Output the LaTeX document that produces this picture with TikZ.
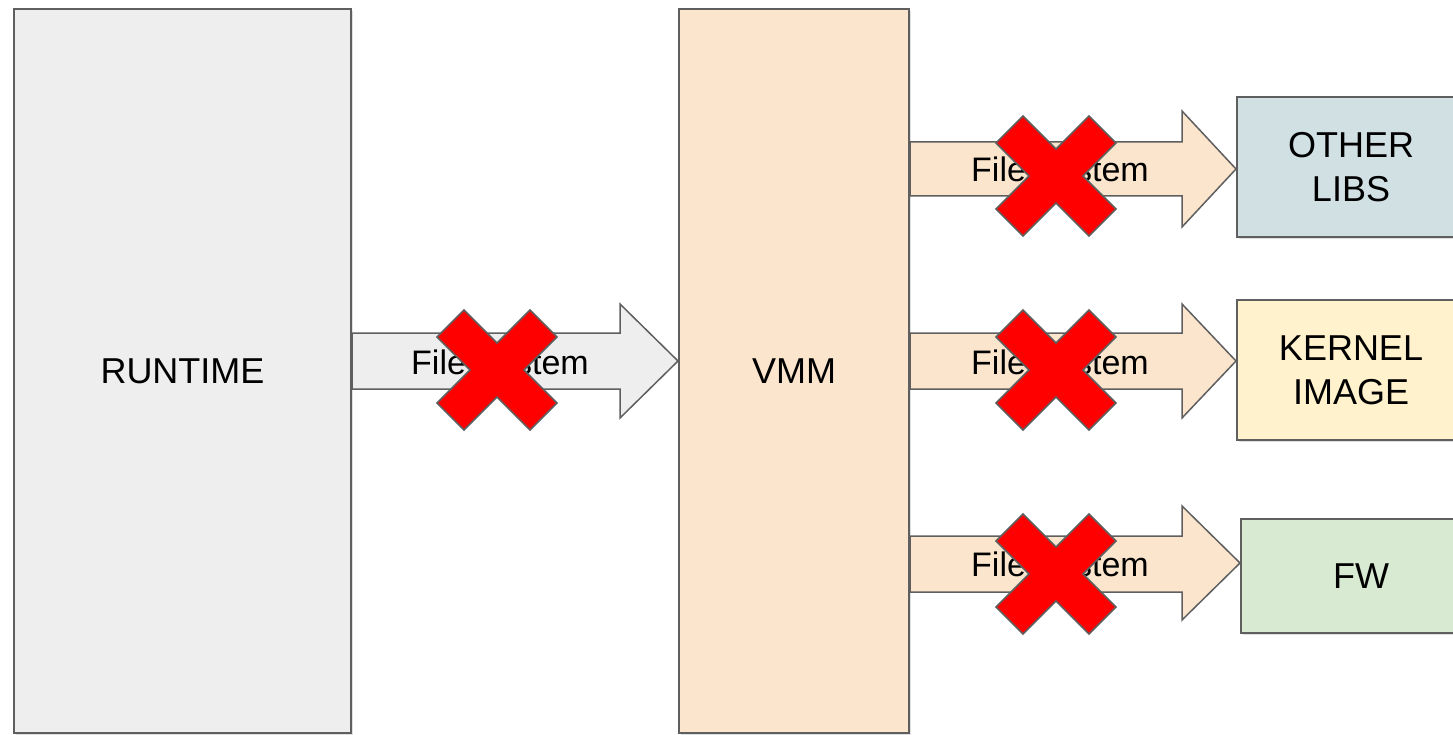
\documentclass[tikz,border=0pt]{standalone}
\usepackage{fontspec}
\setmainfont{Liberation Sans}
\usetikzlibrary{shadows}
\definecolor{edge}{HTML}{5F5F5F}
\definecolor{grayfill}{HTML}{EEEEEE}
\definecolor{peach}{HTML}{FCE5CD}
\definecolor{bluegray}{HTML}{D0E0E3}
\definecolor{cream}{HTML}{FFF2CC}
\definecolor{mint}{HTML}{D9EAD3}
\definecolor{crossred}{HTML}{FF0000}
\begin{document}
\begin{tikzpicture}[x=1pt,y=-1pt,
  box/.style={draw=edge, line width=2pt, inner sep=0pt, align=center,
    font=\fontsize{36}{44}\selectfont,
    drop shadow={shadow xshift=1.5pt, shadow yshift=-2pt, opacity=0.25}},
  blockarrow/.style={draw=edge, line width=1.5pt, line join=miter},
  label/.style={inner sep=0pt, anchor=base, font=\fontsize{34}{40}\selectfont},
  cross/.style={draw=edge, line width=1.5pt, fill=crossred, line join=miter}]
\useasboundingbox (0,0) rectangle (1453,735);
\begin{scope}
\clip (0,0) rectangle (1453,735);

% main blocks
\node[box, fill=grayfill, minimum width=337pt, minimum height=724pt] (rt) at (182.5,371) {RUNTIME};
\node[box, fill=peach, minimum width=230pt, minimum height=724pt] (vmm) at (794,371) {VMM};
\node[box, fill=bluegray, minimum width=228pt, minimum height=140pt] (libs) at (1351,167) {OTHER\\LIBS};
\node[box, fill=cream, minimum width=228pt, minimum height=140pt] (kern) at (1351,370) {KERNEL\\IMAGE};
\node[box, fill=mint, minimum width=240pt, minimum height=114pt] (fw) at (1361,576) {FW};

% block arrows: name, source, target, shaft top y, shaft bottom y,
% head start x, head top y, tip y, fill
\newcommand{\fsarrow}[9]{%
  \coordinate (#1s1) at (#2.east |- 0,#4);
  \coordinate (#1s2) at (#2.east |- 0,#5);
  \coordinate (#1tip) at (#3.west |- 0,#8);
  \draw[blockarrow, fill=#9] (#1s1) -- (#6,#4) -- (#6,#7) -- (#1tip)
     -- (#6,\the\numexpr 2*#8-#7\relax) -- (#6,#5) -- (#1s2) -- cycle;
}
\fsarrow{a}{rt}{vmm}{333}{389}{620}{304}{361}{grayfill}
\fsarrow{b}{vmm}{libs}{142}{196}{1182}{111}{169}{peach}
\fsarrow{c}{vmm}{kern}{333}{389}{1182}{304}{361}{peach}
\fsarrow{d}{vmm}{fw}{536}{592}{1182}{506}{563}{peach}

\node[label] (ta) at (500,374) {File System};
\node[label] (tb) at (1060,182) {File System};
\node[label] (tc) at (1060,374) {File System};
\node[label] (td) at (1060,576) {File System};

% red crosses
\newcommand{\redx}[2]{%
  \draw[cross, shift={(#1,#2)}] (0,-27) -- (33,-60) -- (60,-33) -- (27,0) -- (60,33)
    -- (33,60) -- (0,27) -- (-33,60) -- (-60,33) -- (-27,0) -- (-60,-33) -- (-33,-60) -- cycle;
}
\redx{497}{370}
\redx{1056}{176}
\redx{1056}{370}
\redx{1056}{574}
\end{scope}
\end{tikzpicture}
\end{document}
